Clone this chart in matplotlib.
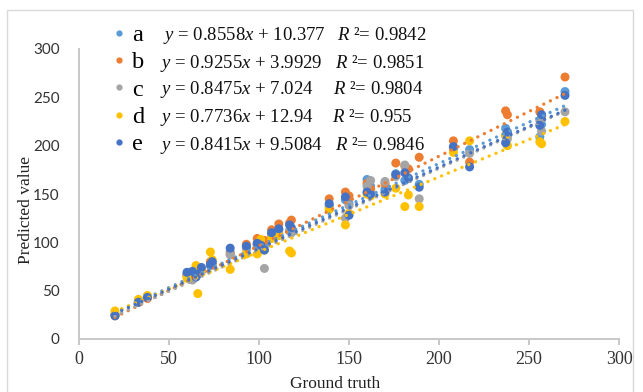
import numpy as np
import matplotlib
matplotlib.use('Agg')
import matplotlib.pyplot as plt
from matplotlib.lines import Line2D
from matplotlib.patches import Rectangle

plt.rcParams['mathtext.fontset'] = 'custom'
plt.rcParams['mathtext.rm'] = 'Liberation Serif'
plt.rcParams['mathtext.it'] = 'Liberation Serif:italic'

# ground truth values (x), shared by every series
ground_truth = [20, 33, 38, 60, 63, 65, 66, 68, 73, 74, 84, 93, 99, 101, 103, 107, 111, 117,
                118, 139, 148, 150, 160, 162, 170, 176, 181, 183, 189, 208, 217, 237, 238,
                256, 257, 270]

pred_a = [26, 39, 43, 67, 64, 68, 72, 70, 76, 80, 90, 95, 98, 101, 96, 108, 113, 112,
          110, 138, 144, 140, 165, 158, 155, 171, 164, 166, 160, 198, 196, 218, 210,
          209, 222, 256]
pred_b = [24, 38, 42, 66, 62, 68, 70, 72, 80, 78, 88, 98, 104, 100, 102, 113, 119, 120,
          123, 145, 152, 148, 161, 155, 161, 182, 179, 176, 188, 205, 183, 236, 232,
          235, 230, 271]
pred_c = [25, 38, 44, 65, 61, 66, 68, 70, 76, 78, 87, 93, 97, 95, 73, 107, 110, 112,
          110, 136, 125, 138, 158, 164, 163, 168, 180, 167, 145, 196, 192, 210, 207,
          226, 215, 235]
pred_d = [29, 41, 45, 63, 66, 76, 47, 72, 90, 82, 72, 88, 88, 103, 92, 104, 107, 91,
          89, 134, 118, 130, 150, 148, 150, 156, 137, 149, 137, 193, 205, 211, 200,
          204, 202, 225]
pred_e = [24, 38, 43, 69, 70, 64, 67, 74, 77, 80, 94, 96, 99, 97, 92, 110, 114, 118,
          115, 140, 147, 128, 152, 150, 152, 170, 172, 166, 157, 199, 178, 203, 214,
          221, 232, 252]

names = ['a', 'b', 'c', 'd', 'e']
colors = ['#5B9BD5', '#ED7D31', '#A5A5A5', '#FFC000', '#4472C4']
slopes = [0.8558, 0.9255, 0.8475, 0.7736, 0.8415]
intercepts = [10.377, 3.9929, 7.024, 12.94, 9.5084]
r2_text = ['0.9842', '0.9851', '0.9804', '0.955', '0.9846']
equations = ['$y$ = 0.8558$x$ + 10.377', '$y$ = 0.9255$x$ + 3.9929',
             '$y$ = 0.8475$x$ + 7.024', '$y$ = 0.7736$x$ + 12.94',
             '$y$ = 0.8415$x$ + 9.5084']
series = [pred_a, pred_b, pred_c, pred_d, pred_e]

W, H = 643, 392
fig = plt.figure(figsize=(W / 100, H / 100), dpi=100)
ax = fig.add_axes([79 / W, 1 - 339 / H, 540 / W, 290 / H])

gt = np.array(ground_truth)
for i in range(len(series)):
    ax.scatter(gt, series[i], s=42, color=colors[i], edgecolors='none', zorder=2)
xx = np.array([gt.min(), gt.max()])
for i in range(len(series)):
    ax.plot(xx, slopes[i] * xx + intercepts[i], color=colors[i], linewidth=2.4,
            linestyle=(0, (0.01, 2.2)), dash_capstyle='round', zorder=3)

ax.set_xlim(0, 300)
ax.set_ylim(0, 300)
ax.set_xticks(np.arange(0, 301, 50))
ax.set_yticks(np.arange(0, 301, 50))
for s in ['top', 'right']:
    ax.spines[s].set_visible(False)
for s in ['left', 'bottom']:
    ax.spines[s].set_color('#c8c8c8')
    ax.spines[s].set_linewidth(1.4)
ax.tick_params(axis='x', length=4.3, width=1.4, color='#c8c8c8', pad=4,
               labelsize=13, labelcolor='#333333')
ax.tick_params(axis='y', length=0, pad=14, labelsize=11, labelcolor='#333333')
for lab in ax.get_xticklabels():
    lab.set_fontfamily('Liberation Serif')
for lab in ax.get_yticklabels():
    lab.set_fontfamily('Lato')

fig.text(335 / W, 1 - 388 / H, 'Ground truth', ha='center', va='baseline',
         fontsize=12.5, family='Liberation Serif', color='#222222')
fig.text(26 / W, 1 - 210 / H, 'Predicted value', ha='center', va='center', rotation=90,
         fontsize=12.5, family='Liberation Serif', color='#222222')

# legend
handles = [Line2D([], [], linestyle='none', marker='o', markersize=4.5,
                  markerfacecolor=c, markeredgecolor='none') for c in colors]
leg = fig.legend(handles, names, loc='upper left', bbox_to_anchor=(109 / W, 1 - 24 / H),
                 frameon=False, prop={'family': 'Liberation Serif', 'size': 17.5},
                 labelspacing=0.22, handlelength=0.8, handletextpad=0.15,
                 borderpad=0, borderaxespad=0)

baselines = [40.5, 67.5, 94.5, 122, 149.5]
eq_x = [163, 160, 160, 160, 160]
r_x = [337, 335, 333, 332, 335]
for i in range(5):
    fig.text(eq_x[i] / W, 1 - baselines[i] / H, equations[i], ha='left', va='baseline',
             fontsize=13.5, family='Liberation Serif', color='#111111')
    fig.text(r_x[i] / W, 1 - baselines[i] / H, '$R$ ²= ' + r2_text[i], ha='left',
             va='baseline', fontsize=13.5, family='Liberation Serif', color='#111111')

fig.patches.append(Rectangle((7 / W, -0.05), 626 / W, 1.05 - 10 / H, transform=fig.transFigure,
                             fill=False, edgecolor='#d9d9d9', linewidth=1))

fig.savefig('out.png', dpi=100)
